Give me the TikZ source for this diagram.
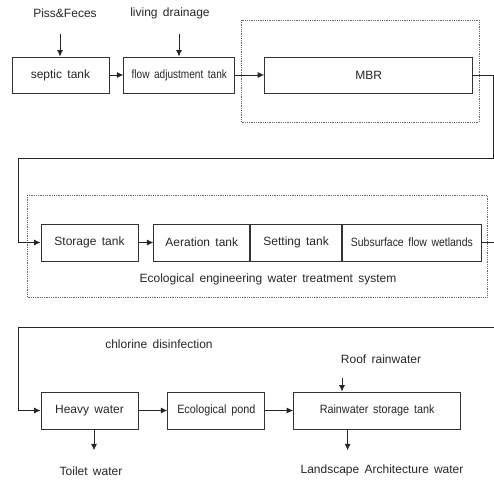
\documentclass[tikz,border=0pt]{standalone}
\usepackage{fontspec}
\setmainfont{Liberation Sans}[WordSpace=1.6]
\usetikzlibrary{arrows.meta,positioning}

\begin{document}
\begin{tikzpicture}[x=1pt, y=-1pt,
  tankbox/.style={draw=black!80, line width=0.8pt, font=\fontsize{12}{14}\selectfont, text=black!85, align=center, minimum height=36pt, inner sep=0pt},
  note/.style={font=\fontsize{12}{14}\selectfont, text=black!85, inner sep=0pt},
  sysframe/.style={draw=black!60, densely dotted, line width=0.8pt},
  arrow/.style={-{Latex[length=6.5pt,width=6pt]}, line width=0.9pt, color=black!85},
  pipe/.style={line width=0.9pt, color=black!85}
]
\useasboundingbox (0,0) rectangle (494,479);

% first line: sewage to MBR
\node[tankbox, minimum width=97pt] (septic) at (60.5,75) {septic tank};
\node[tankbox, minimum width=111pt, right=14pt of septic] (flowadj) {\scalebox{0.84}[1]{flow adjustment tank}};
\node[tankbox, minimum width=208pt, right=29pt of flowadj] (mbr) {MBR};
\draw[sysframe] (241,20) rectangle (479,122);

\node[note] (piss) at (65,13) {Piss\&Feces};
\node[note] (living) at (170,13) {living drainage};
\coordinate (pissin) at (60,34);
\coordinate (livingin) at (179,34);

\draw[arrow] (pissin) -- (pissin |- septic.north);
\draw[arrow] (livingin) -- (livingin |- flowadj.north);
\draw[arrow] (septic) -- (flowadj);
\draw[arrow] (flowadj) -- (mbr);

% second line: ecological system
\node[tankbox, minimum width=97pt, minimum height=37pt] (storage) at (89.5,242.5) {Storage tank};
\node[tankbox, minimum width=96pt, minimum height=37pt, right=15pt of storage] (aeration) {Aeration tank};
\node[tankbox, minimum width=91pt, minimum height=37pt, right=0pt of aeration] (setting) {Setting tank};
\node[tankbox, minimum width=139pt, minimum height=37pt, right=0pt of setting] (wetlands) {\scalebox{0.87}[1]{Subsurface flow wetlands}};
\draw[sysframe] (27,195) rectangle (487,297);
\node[note] (ecolabel) at (268,279) {Ecological engineering water treatment system};

\coordinate (turnleft) at (18,158);
\draw[arrow] (mbr.east) -| (493,158) -- (turnleft) |- (storage.west);
\draw[arrow] (storage) -- (aeration);
\draw[pipe] (wetlands.east) -- ++(15,0);

% third line: reuse
\node[tankbox, minimum width=97pt, minimum height=37pt] (heavy) at (89.5,410.5) {Heavy water};
\node[tankbox, minimum width=97pt, minimum height=37pt, right=29pt of heavy] (pond) {\scalebox{0.9}[1]{Ecological pond}};
\node[tankbox, minimum width=167pt, minimum height=37pt, right=28pt of pond] (rain) {\scalebox{0.9}[1]{Rainwater storage tank}};

\node[note] (chlorine) at (159,344) {chlorine disinfection};
\node[note] (roof) at (381,359) {Roof rainwater};
\node[note] (toilet) at (91,471) {Toilet water};
\node[note] (landscape) at (382,470) {Landscape Architecture water};

\coordinate (reuse) at (494,327);
\coordinate (roofin) at (342,378);
\draw[arrow] (reuse) -- (18,327) |- (heavy.west);
\draw[arrow] (heavy) -- (pond);
\draw[arrow] (pond) -- (rain);
\draw[arrow] (roofin) -- (roofin |- rain.north);
\draw[arrow] ([xshift=4.5pt]heavy.south) -- ++(0,21);
\draw[arrow] ([xshift=-29.5pt]rain.south) -- ++(0,21);
\end{tikzpicture}
\end{document}
